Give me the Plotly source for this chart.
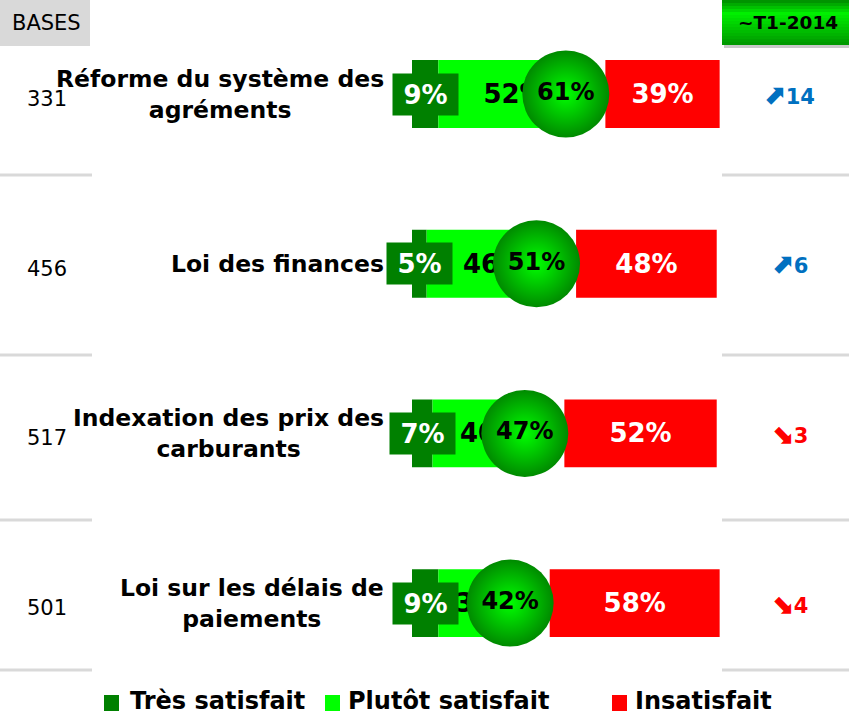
import plotly.graph_objects as go

# Données
items = ["Réforme du système des<br>agréments", "Loi des finances",
         "Indexation des prix des<br>carburants", "Loi sur les délais de<br>paiements"]
bases = [331, 456, 517, 501]
tres_satisfait = [9, 5, 7, 9]
plutot_satisfait = [52, 46, 40, 33]
insatisfait = [39, 48, 52, 58]
total_satisfait = [61, 51, 47, 42]
evolution = [14, 6, -3, -4]
legend_labels = ["Très satisfait", "Plutôt satisfait", "Insatisfait"]

# Mise en page (pixels)
W, H = 849, 714
X0_PX = 412          # position du 0 %
PX_PER_PCT = 2.93
ROW0_PX, ROW_STEP_PX = 94, 169.7
GAP = 5              # écart entre satisfaits et insatisfaits
CIRCLE_SHIFT = 8.5
FONT = "DejaVu Sans"

DARK = "#008000"
LIGHT = "#00ff00"
RED = "#ff0000"
BLUE = "#0070c0"
GREY = "#d9d9d9"


def px_x(p):
    return p / W


def px_y(p):
    return 1 - p / H


rows = list(range(len(items)))
n = len(items)
x_range = [-X0_PX / PX_PER_PCT, (W - X0_PX) / PX_PER_PCT]
y_range = [n - 1 + (H - (ROW0_PX + (n - 1) * ROW_STEP_PX)) / ROW_STEP_PX, -ROW0_PX / ROW_STEP_PX]

fig = go.Figure()

fig.add_trace(go.Bar(y=rows, x=tres_satisfait, base=0, orientation="h", width=0.4,
                     marker=dict(color=DARK, line_width=0), name=legend_labels[0]))
fig.add_trace(go.Bar(y=rows, x=plutot_satisfait, base=tres_satisfait, orientation="h", width=0.4,
                     marker=dict(color=LIGHT, line_width=0), name=legend_labels[1],
                     text=[f"{v}%" for v in plutot_satisfait], textposition="inside",
                     insidetextanchor="middle", textangle=0, constraintext="none",
                     textfont=dict(family=FONT, size=26, color="black", weight="bold")))
red_base = [t + p + GAP for t, p in zip(tres_satisfait, plutot_satisfait)]
fig.add_trace(go.Bar(y=rows, x=insatisfait, base=red_base, orientation="h", width=0.4,
                     marker=dict(color=RED, line_width=0), name=legend_labels[2],
                     text=[f"{v}%" for v in insatisfait], textposition="inside",
                     insidetextanchor="middle", textangle=0, constraintext="none",
                     textfont=dict(family=FONT, size=26, color="white", weight="bold")))

# bulles du total satisfait
fig.add_trace(go.Scatter(
    x=[s - CIRCLE_SHIFT for s in total_satisfait], y=rows, mode="markers+text",
    marker=dict(size=87, color="#008a00", gradient=dict(type="radial", color="#00ff00"), line_width=0),
    text=[f"{v}%" for v in total_satisfait], textposition="middle center",
    textfont=dict(family=FONT, size=24, color="black", weight="bold"), showlegend=False))

annotations = []
for r, t in zip(rows, tres_satisfait):
    annotations.append(dict(x=t / 2, y=r, xref="x", yref="y", text=f"<b>{t}%</b>", showarrow=False,
                            font=dict(family=FONT, size=26, color="white"), bgcolor=DARK,
                            width=63, height=39, borderpad=1))
for r, name in zip(rows, items):
    annotations.append(dict(x=px_x(386), y=r, xref="paper", yref="y", xanchor="right", align="center",
                            text=f"<b>{name}</b>", showarrow=False,
                            font=dict(family=FONT, size=23.5, color="black")))
for r, b in zip(rows, bases):
    annotations.append(dict(x=px_x(25), y=r, xref="paper", yref="y", xanchor="left", yshift=-5,
                            text=str(b), showarrow=False, font=dict(family=FONT, size=21, color="black")))
for r, v in zip(rows, evolution):
    arrow = "⬈" if v > 0 else "⬊"
    annotations.append(dict(x=px_x(789), y=r, xref="paper", yref="y", xanchor="center",
                            text=f"<b><span style='font-size:27px'>{arrow}</span>{abs(v)}</b>",
                            showarrow=False,
                            font=dict(family=FONT, size=21, color=BLUE if v > 0 else RED)))

# en-têtes
shapes = [dict(type="rect", xref="paper", yref="paper", x0=0, x1=px_x(90), y0=px_y(46), y1=1,
               fillcolor=GREY, line_width=0)]
annotations.append(dict(x=px_x(46), y=px_y(23), xref="paper", yref="paper", xanchor="center",
                        yanchor="middle", text="BASES", showarrow=False,
                        font=dict(family=FONT, size=21, color="black")))

shapes.append(dict(type="rect", xref="paper", yref="paper", x0=px_x(724), x1=1, y0=px_y(48), y1=px_y(44),
                   fillcolor="#c8c8c8", line_width=0))
strips = 15
for i in range(strips):
    f = (i + 0.5) / strips
    if f < 0.3:
        g = 136 + (240 - 136) * f / 0.3
    else:
        g = 240 - (240 - 150) * (f - 0.3) / 0.7
    shapes.append(dict(type="rect", xref="paper", yref="paper", x0=px_x(722), x1=1,
                       y0=px_y(45 * (i + 1) / strips), y1=px_y(45 * i / strips),
                       fillcolor=f"rgb(0,{int(g)},0)", line_width=0))
annotations.append(dict(x=px_x(788), y=px_y(23), xref="paper", yref="paper", xanchor="center",
                        yanchor="middle", text="<b>~T1-2014</b>",
                        showarrow=False, font=dict(family=FONT, size=18.5, color="black")))

# séparateurs
for yp in [175, 355, 520, 670]:
    for xa, xb in [(0, 92), (722, W)]:
        shapes.append(dict(type="line", xref="paper", yref="paper", x0=px_x(xa), x1=px_x(xb),
                           y0=px_y(yp), y1=px_y(yp), line=dict(color=GREY, width=3)))

# légende
for label, color, xs, xt in zip(legend_labels, [DARK, LIGHT, RED], [104, 325, 612], [128, 346, 633]):
    shapes.append(dict(type="rect", xref="paper", yref="paper", x0=px_x(xs), x1=px_x(xs + 15),
                       y0=px_y(711), y1=px_y(695), fillcolor=color, line_width=0))
    annotations.append(dict(x=px_x(xt), y=px_y(701), xref="paper", yref="paper", xanchor="left",
                            yanchor="middle", text=f"<b>{label}</b>", showarrow=False,
                            font=dict(family=FONT, size=24, color="black")))

fig.update_layout(
    width=W, height=H, margin=dict(l=0, r=0, t=0, b=0),
    barmode="overlay", showlegend=False,
    paper_bgcolor="white", plot_bgcolor="white",
    xaxis=dict(range=x_range, visible=False, fixedrange=True),
    yaxis=dict(range=y_range, visible=False, fixedrange=True),
    shapes=shapes, annotations=annotations,
)

fig.write_html("out.html", config={"displayModeBar": False},
               post_script="document.body.style.margin = '0';")
